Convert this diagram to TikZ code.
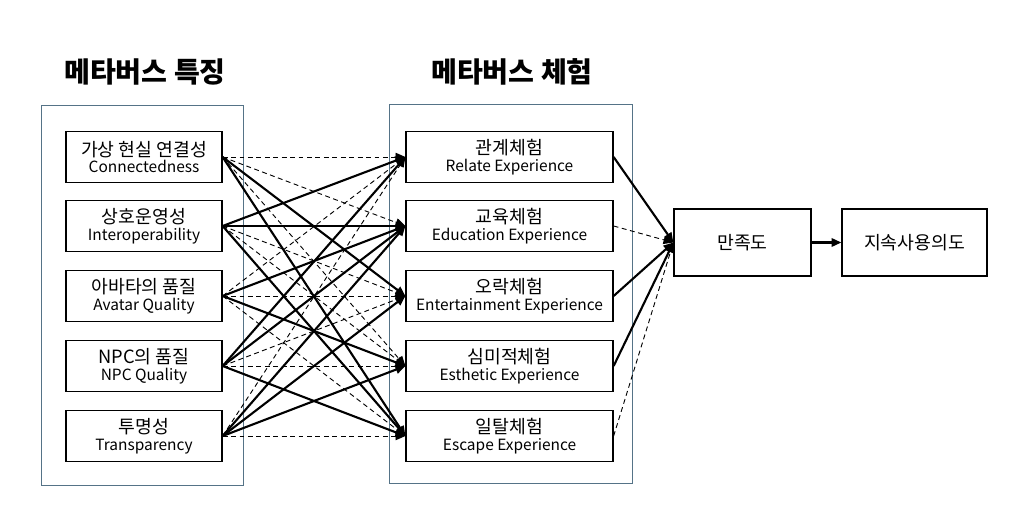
\documentclass[tikz,border=0pt]{standalone}
\usepackage{fontspec}
\setmainfont{Noto Sans CJK KR}
\usetikzlibrary{arrows.meta}

\newcommand{\kor}[1]{{\fontsize{13}{15}\selectfont #1}}
\newcommand{\eng}[1]{{\fontsize{11}{15}\selectfont #1}}

\tikzset{
	factor/.style={draw, line width=0.9pt, align=center, minimum width=156*0.025cm, minimum height=51*0.025cm, inner sep=0pt},
	exper/.style={factor, minimum width=207*0.025cm},
	outcome/.style={draw, line width=0.9pt, minimum height=67*0.025cm, inner sep=0pt, font=\fontsize{13}{15}\selectfont},
	group/.style={draw={rgb,255:red,85;green,115;blue,135}, line width=0.55pt},
	heading/.style={font=\fontsize{20}{24}\selectfont\bfseries},
	sig/.style={-{Triangle[length=7pt,width=6pt]}, line width=1.5pt},
	nsig/.style={-{Triangle[length=7pt,width=6pt]}, line width=0.65pt, dash pattern=on 3.5pt off 2.5pt}
}

\begin{document}
\begin{tikzpicture}[x=0.025cm, y=-0.025cm]
	\useasboundingbox (0,0) rectangle (1017,510);

	% 그룹 상자와 제목
	\draw[group] (41,105) rectangle (243,485);
	\draw[group] (389,104) rectangle (632,483);
	\node[heading] (t1) at (145,72) {메타버스 특징};
	\node[heading] (t2) at (512,72) {메타버스 체험};

	% 메타버스 특징
	\node[factor] (l1) at (144,157) {\kor{가상 현실 연결성}\\\eng{Connectedness}};
	\node[factor] (l2) at (144,226) {\kor{상호운영성}\\\eng{Interoperability}};
	\node[factor] (l3) at (144,296) {\kor{아바타의 품질}\\\eng{Avatar Quality}};
	\node[factor] (l4) at (144,366) {\kor{NPC의 품질}\\\eng{NPC Quality}};
	\node[factor] (l5) at (144,436) {\kor{투명성}\\\eng{Transparency}};

	% 메타버스 체험
	\node[exper] (m1) at (509.5,157) {\kor{관계체험}\\\eng{Relate Experience}};
	\node[exper] (m2) at (509.5,226) {\kor{교육체험}\\\eng{Education Experience}};
	\node[exper] (m3) at (509.5,296) {\kor{오락체험}\\\eng{Entertainment Experience}};
	\node[exper] (m4) at (509.5,366) {\kor{심미적체험}\\\eng{Esthetic Experience}};
	\node[exper] (m5) at (509.5,436) {\kor{일탈체험}\\\eng{Escape Experience}};

	\node[outcome, minimum width=137*0.025cm] (sat) at (742.5,242.5) {만족도};
	\node[outcome, minimum width=145*0.025cm] (cont) at (914.5,242.5) {지속사용의도};

	% 특징 -> 체험
	\draw[nsig] (l1.east) -- (m1.west);
	\draw[nsig] (l1.east) -- (m2.west);
	\draw[sig] (l1.east) -- (m3.west);
	\draw[nsig] (l1.east) -- (m4.west);
	\draw[sig] (l1.east) -- (m5.west);

	\draw[sig] (l2.east) -- (m1.west);
	\draw[sig] (l2.east) -- (m2.west);
	\draw[nsig] (l2.east) -- (m3.west);
	\draw[nsig] (l2.east) -- (m4.west);
	\draw[sig] (l2.east) -- (m5.west);

	\draw[nsig] (l3.east) -- (m1.west);
	\draw[sig] (l3.east) -- (m2.west);
	\draw[nsig] (l3.east) -- (m3.west);
	\draw[sig] (l3.east) -- (m4.west);
	\draw[nsig] (l3.east) -- (m5.west);

	\draw[sig] (l4.east) -- (m1.west);
	\draw[sig] (l4.east) -- (m2.west);
	\draw[nsig] (l4.east) -- (m3.west);
	\draw[nsig] (l4.east) -- (m4.west);
	\draw[sig] (l4.east) -- (m5.west);

	\draw[nsig] (l5.east) -- (m1.west);
	\draw[sig] (l5.east) -- (m2.west);
	\draw[sig] (l5.east) -- (m3.west);
	\draw[sig] (l5.east) -- (m4.west);
	\draw[nsig] (l5.east) -- (m5.west);

	% 체험 -> 만족도 -> 지속사용의도
	\draw[sig] (m1.east) -- (sat.west);
	\draw[nsig] (m2.east) -- (sat.west);
	\draw[sig] (m3.east) -- (sat.west);
	\draw[sig] (m4.east) -- (sat.west);
	\draw[nsig] (m5.east) -- (sat.west);
	\draw[sig] (sat) -- (cont);
\end{tikzpicture}
\end{document}
